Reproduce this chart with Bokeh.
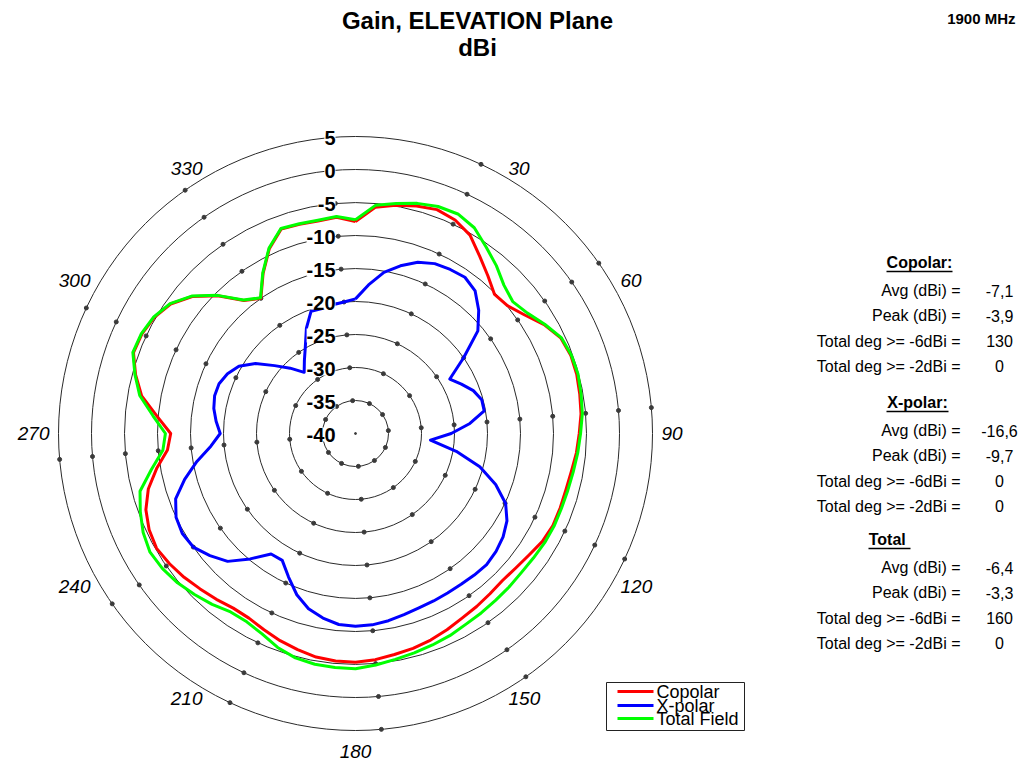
import numpy as np
from bokeh.plotting import figure
from bokeh.models import Range1d, Label
from bokeh.core.properties import value
from bokeh.embed import file_html
from bokeh.resources import INLINE

# ---- measured gain, elevation plane, 1900 MHz (dBi), every 5 degrees ----
angles = list(range(0, 360, 5))

copolar = [-7.9, -5.6, -4.9, -4.3, -3.9, -4.3, -5.3, -7.2, -8.8, -10.2,
           -9.9, -8.7, -7.0, -5.7, -5.3, -5.3, -5.5, -5.7, -6.1, -6.4,
           -6.8, -7.0, -7.0, -7.0, -7.3, -7.9, -8.3, -8.5, -8.3, -8.0,
           -7.7, -7.2, -6.7, -6.3, -6.0, -5.6, -5.35, -5.4, -5.6, -6.1,
           -6.6, -7.2, -7.7, -7.7, -7.2, -6.7, -6.1, -5.6, -5.2, -5.5,
           -6.2, -7.5, -9.4, -11.4, -12.0, -9.8, -7.1, -5.5, -4.2, -4.3,
           -4.8, -5.8, -7.7, -10.5, -13.7, -15.0, -12.0, -9.1, -7.05, -7.2,
           -7.3, -7.1]

xpolar = [-19.6, -17.4, -15.2, -13.7, -12.4, -11.6, -11.3, -11.1, -11.8, -13.6,
          -15.8, -20.0, -23.5, -22.3, -21.0, -20.2, -20.2, -22.6, -25.5, -28.6,
          -24.5, -20.5, -17.4, -14.9, -13.5, -12.7, -12.2, -11.9, -12.0, -12.1,
          -12.1, -12.0, -11.9, -11.6, -11.2, -10.9, -10.8, -10.95, -11.6, -12.5,
          -14.0, -16.0, -17.8, -17.7, -15.2, -12.6, -11.2, -10.0, -9.7, -10.0,
          -11.0, -13.2, -15.6, -18.0, -19.5, -18.8, -18.2, -17.9, -18.0, -18.6,
          -19.6, -21.5, -24.0, -26.0, -27.9, -26.5, -24.8, -22.4, -20.3, -20.4,
          -20.2, -20.0]

total = [-7.6, -5.3, -4.6, -3.9, -3.4, -3.3, -4.0, -5.5, -6.8, -8.2,
         -8.9, -8.2, -6.9, -5.6, -5.2, -5.1, -5.3, -5.5, -5.9, -6.2,
         -6.5, -6.7, -6.8, -6.8, -6.9, -7.1, -7.2, -7.1, -7.0, -6.8,
         -6.6, -6.2, -5.9, -5.6, -5.25, -4.8, -4.35, -4.4, -4.5, -4.8,
         -5.5, -6.5, -7.05, -7.0, -6.2, -5.5, -4.8, -4.3, -4.05, -4.5,
         -5.3, -6.2, -8.6, -10.7, -11.2, -9.2, -6.8, -5.4, -4.1, -4.2,
         -4.7, -5.7, -7.6, -10.4, -13.6, -14.9, -11.9, -9.0, -6.95, -7.1,
         -7.2, -7.0]

series_names = ["Copolar", "X-polar", "Total Field"]
series_colors = ["#ff0000", "#0000ff", "#00ff00"]

ring_levels = [5, 0, -5, -10, -15, -20, -25, -30, -35, -40]
ring_labels = ["5", "0", "-5", "-10", "-15", "-20", "-25", "-30", "-35", "-40"]
angle_ticks = [30, 60, 90, 120, 150, 180, 210, 240, 270, 300, 330]
grid_dot_angles = [-5 + 30 * k for k in range(12)]

stat_blocks = ["Copolar:", "X-polar:", "Total "]
stat_rows = ["Avg (dBi) =", "Peak (dBi) =", "Total deg >= -6dBi =", "Total deg >= -2dBi ="]
stat_values = [["-7,1", "-3,9", "130", "0"],
               ["-16,6", "-9,7", "0", "0"],
               ["-6,4", "-3,3", "160", "0"]]

# ---- page geometry (pixels) ----
W, H = 1024, 766
CX, CY = 355, 433          # pole of the polar grid
S = 6.6                    # pixels per dB
FLOOR = -40                # level drawn at the pole
FONT = "Liberation Sans"


def dx(px):
    return (px - CX) / S


def dy(py):
    return (CY - py) / S


def polar_xy(deg, level):
    th = np.radians(np.asarray(deg, dtype=float))
    r = np.asarray(level, dtype=float) - FLOOR
    return r * np.sin(th), r * np.cos(th)


def label(x, y, text, size, style="normal", align="center", baseline="middle"):
    return Label(x=x, y=y, text=text, text_align=align, text_baseline=baseline,
                 text_font=FONT, text_font_size=size, text_font_style=style,
                 text_color="black")


p = figure(width=W, height=H, output_backend="svg", toolbar_location=None,
           x_range=Range1d(dx(0), dx(W)), y_range=Range1d(dy(H), dy(0)),
           x_axis_location=None, y_axis_location=None, min_border=0)
p.grid.visible = False
p.outline_line_color = None
p.background_fill_color = "white"

# concentric rings
ring_r = [lv - FLOOR for lv in ring_levels if lv > FLOOR]
p.circle(x=[0] * len(ring_r), y=[0] * len(ring_r), radius=ring_r,
         fill_color=None, line_color="#2a2a2a", line_width=1)

# dotted spokes: a dot where each spoke meets a ring
gx, gy = [], []
for lv in ring_levels:
    if lv == FLOOR:
        continue
    x, y = polar_xy(grid_dot_angles, [lv] * len(grid_dot_angles))
    gx.extend(x)
    gy.extend(y)
p.scatter(gx, gy, size=4, color="#3a3a3a")
p.scatter([0], [0], size=2, color="#3a3a3a")

# pattern traces
ang_closed = angles + [angles[0]]
for vals, col in [(xpolar, series_colors[1]), (copolar, series_colors[0]), (total, series_colors[2])]:
    x, y = polar_xy(ang_closed, vals + [vals[0]])
    p.line(x, y, line_color=col, line_width=3, line_join="round")

# ring level labels on a white patch
for lv, txt in zip(ring_levels, ring_labels):
    lab = label(dx(335), lv - FLOOR, txt, "20px", "bold", "right")
    lab.background_fill_color = "white"
    lab.y_offset = -1
    p.add_layout(lab)

# angle labels round the outside, anchored on a circle just past the rim
for a in angle_ticks:
    th = np.radians(a)
    if a == 180:
        rr = 311 / S
        p.add_layout(label(0, -rr, str(a), "19px", "italic", "center", "top"))
        continue
    rr = 306 / S
    align = "left" if a < 180 else "right"
    p.add_layout(label(rr * np.sin(th), rr * np.cos(th), str(a), "19px", "italic", align))

# titles
p.add_layout(label(dx(477), dy(20), "Gain, ELEVATION Plane", "24px", "bold"))
p.add_layout(label(dx(477), dy(47), "dBi", "24px", "bold"))
p.add_layout(label(dx(1015), dy(18), "1900 MHz", "15px", "bold", "right"))

# statistics panel
head_y = [262, 402, 539]
head_x = [919, 917, 889]
row_step = 25.3
for b, (hdr, vals) in enumerate(zip(stat_blocks, stat_values)):
    hy = head_y[b]
    p.add_layout(label(dx(head_x[b]), dy(hy), hdr, "16px", "bold"))
    ys = [hy + 28 + i * row_step for i in range(len(stat_rows))]
    p.text(x=[dx(960)] * 4, y=[dy(v) for v in ys], text=stat_rows, text_align="right",
           text_baseline="middle", text_font=value(FONT), text_font_size="16px",
           text_color="black")
    p.text(x=[dx(999)] * 4, y=[dy(v) for v in ys], text=vals, text_align="center",
           text_baseline="middle", text_font=value(FONT), text_font_size="16px",
           text_color="black")
underlines = [(886, 952, 271), (886, 948, 411), (868, 910, 548)]
for x0, x1, uy in underlines:
    p.segment(x0=[dx(x0)], y0=[dy(uy)], x1=[dx(x1)], y1=[dy(uy)], line_color="black",
              line_width=1.5)

# legend box
p.quad(left=[dx(606)], right=[dx(744)], top=[dy(682)], bottom=[dy(730)],
       fill_color="white", line_color="#222222", line_width=1)
leg_y = [691, 705, 718]
for name, col, ly in zip(series_names, series_colors, leg_y):
    p.segment(x0=[dx(617)], y0=[dy(ly)], x1=[dx(653)], y1=[dy(ly)], line_color=col,
              line_width=3)
    p.text(x=[dx(656)], y=[dy(ly)], text=[name], text_align="left", text_baseline="middle",
           text_font=value(FONT), text_font_size="18px", text_color="black")

open("out.html", "w").write(file_html(p, INLINE))
